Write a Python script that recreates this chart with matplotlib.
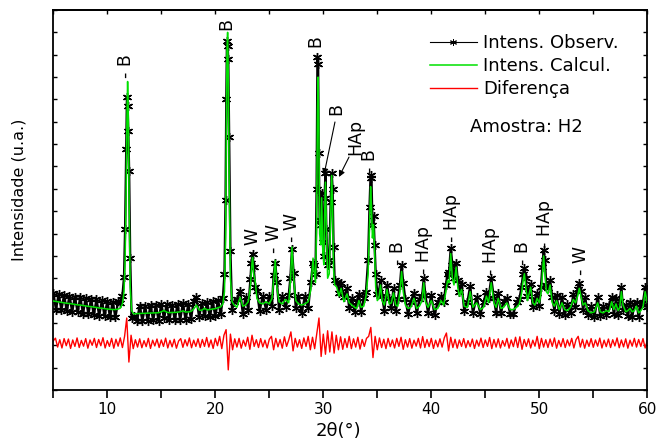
import numpy as np
import matplotlib.pyplot as plt

# Rietveld plot, sample H2. 2-theta in degrees, intensity in arbitrary units
two_theta = [
    # 5 - 11 background
    5.0, 5.25, 5.5, 5.75, 6.0, 6.25, 6.5, 6.75, 7.0, 7.25,
    7.5, 7.75, 8.0, 8.25, 8.5, 8.75, 9.0, 9.25, 9.5, 9.75,
    10.0, 10.25, 10.5, 10.75, 11.0,
    # peak B 11.9
    11.2, 11.4, 11.55, 11.65, 11.75, 11.82, 11.88, 11.94, 12.02, 12.12, 12.25, 12.45,
    # 12.75 - 20.5
    12.75, 13.0, 13.25, 13.5, 13.75, 14.0, 14.25, 14.5, 14.75, 15.0,
    15.25, 15.5, 15.75, 16.0, 16.25, 16.5, 16.75, 17.0, 17.25, 17.5,
    17.75, 18.0, 18.25, 18.5, 18.75, 19.0, 19.25, 19.5, 19.75, 20.0,
    20.25, 20.5,
    # peak B 21.1
    20.7, 20.85, 20.95, 21.02, 21.08, 21.14, 21.2, 21.28, 21.4, 21.55, 21.75,
    # 22 - 29 (W peaks)
    22.0, 22.3, 22.55, 22.8, 23.05, 23.25, 23.35, 23.45, 23.55, 23.7,
    23.85, 24.1, 24.4, 24.7, 25.0, 25.25, 25.4, 25.55, 25.7, 25.9,
    26.2, 26.5, 26.8, 26.95, 27.1, 27.25, 27.45, 27.7, 28.0, 28.3,
    28.6, 28.85,
    # 29 - 31 cluster
    29.05, 29.15, 29.28, 29.38, 29.46, 29.52, 29.58, 29.66, 29.76, 29.85,
    29.95, 30.05, 30.12, 30.2, 30.28, 30.4, 30.55, 30.68, 30.78, 30.86,
    30.95, 31.05,
    # 31 - 34
    31.25, 31.45, 31.65, 31.9, 32.2, 32.4, 32.65, 32.9, 33.1, 33.3,
    33.5, 33.75, 33.95,
    # 34 - 37
    34.15, 34.28, 34.38, 34.46, 34.55, 34.65, 34.75, 34.85, 35.0, 35.15,
    35.3, 35.45, 35.65, 35.9, 36.1, 36.3, 36.5, 36.7, 36.9,
    # 37 - 41
    37.1, 37.25, 37.4, 37.6, 37.85, 38.1, 38.4, 38.65, 38.9, 39.15,
    39.3, 39.45, 39.7, 40.0, 40.3, 40.6, 40.9, 41.15,
    # 41 - 47.5
    41.35, 41.5, 41.65, 41.8, 41.95, 42.1, 42.3, 42.45, 42.6, 42.8,
    43.05, 43.35, 43.6, 43.85, 44.2, 44.55, 44.85, 45.1, 45.3, 45.55,
    45.8, 46.0, 46.2, 46.45, 46.7, 47.0, 47.3,
    # 47.5 - 52
    47.6, 47.9, 48.15, 48.35, 48.5, 48.62, 48.75, 48.9, 49.05, 49.2,
    49.4, 49.6, 49.8, 50.0, 50.15, 50.28, 50.4, 50.52, 50.65, 50.8,
    51.0, 51.2, 51.4, 51.6, 51.85,
    # 52 - 60
    52.1, 52.35, 52.6, 52.9, 53.15, 53.35, 53.55, 53.7, 53.85, 54.05,
    54.25, 54.5, 54.8, 55.1, 55.4, 55.65, 55.9, 56.2, 56.45, 56.7,
    56.9, 57.1, 57.3, 57.45, 57.6, 57.75, 58.0, 58.2, 58.4, 58.6,
    58.8, 59.0, 59.2, 59.4, 59.6, 59.8, 60.0,
]

intens_calc = [
    3.98, 3.96, 3.94, 3.92, 3.90, 3.88, 3.87, 3.85, 3.83, 3.81,
    3.80, 3.78, 3.76, 3.74, 3.73, 3.71, 3.69, 3.67, 3.66, 3.64,
    3.62, 3.61, 3.60, 3.60, 3.62,
    3.66, 3.85, 4.40, 5.80, 9.00, 12.20, 13.80, 12.60, 8.40, 4.60, 3.55, 3.40,
    3.42, 3.42, 3.43, 3.43, 3.44, 3.44, 3.45, 3.45, 3.46, 3.50,
    3.56, 3.48, 3.46, 3.47, 3.47, 3.48, 3.50, 3.54, 3.49, 3.49,
    3.52, 3.62, 3.80, 3.58, 3.56, 3.66, 3.58, 3.60, 3.62, 3.64,
    3.68, 3.72,
    3.85, 4.40, 6.80, 11.50, 15.20, 16.00, 14.20, 9.50, 5.00, 3.95, 3.80,
    3.70, 4.15, 3.75, 3.80, 3.95, 4.60, 5.40, 6.00, 5.20, 4.85,
    4.10, 3.90, 3.85, 3.95, 3.85, 4.10, 4.90, 5.80, 4.60, 3.95,
    3.85, 4.05, 3.90, 4.80, 6.40, 5.00, 4.00, 3.85, 3.80, 3.85,
    3.95, 4.50,
    5.90, 5.30, 4.80, 7.50, 12.50, 14.00, 12.00, 7.00, 6.50, 8.60,
    6.20, 5.60, 7.80, 9.30, 7.40, 5.00, 5.20, 7.80, 9.60, 8.20,
    5.40, 4.70,
    4.60, 4.20, 4.55, 3.95, 4.30, 3.90, 3.80, 3.70, 3.65, 4.00,
    3.70, 3.75, 4.20,
    5.20, 7.50, 9.10, 8.20, 6.80, 7.40, 6.20, 4.60, 4.00, 4.10,
    4.70, 4.00, 3.80, 4.50, 3.85, 3.90, 4.35, 3.80, 3.75,
    4.40, 5.30, 4.40, 3.80, 3.65, 3.70, 4.10, 3.65, 3.75, 4.00,
    4.80, 3.95, 3.70, 4.00, 3.60, 3.65, 4.00, 3.80,
    4.40, 4.90, 4.80, 6.10, 5.00, 4.70, 5.50, 4.60, 4.20, 4.50,
    3.75, 3.70, 4.40, 3.70, 3.90, 3.60, 3.70, 4.20, 3.90, 4.80,
    3.90, 3.70, 4.10, 3.65, 3.70, 3.90, 3.60,
    3.60, 3.70, 3.85, 4.30, 4.90, 5.20, 4.60, 4.00, 4.30, 4.60,
    3.90, 3.80, 4.10, 3.90, 4.30, 5.10, 6.00, 5.20, 4.40, 4.30,
    4.70, 3.90, 3.75, 4.00, 3.60,
    3.90, 3.60, 3.55, 3.70, 4.05, 3.90, 4.20, 4.55, 4.20, 3.80,
    3.90, 3.55, 3.45, 3.50, 3.90, 3.50, 3.45, 3.55, 3.50, 3.95,
    3.60, 3.85, 3.55, 3.70, 4.40, 3.80, 3.50, 3.55, 3.65, 3.50,
    3.55, 3.75, 3.45, 3.55, 3.70, 4.40, 3.90,
]

intens_obs = [
    4.35, 3.60, 4.30, 3.58, 4.25, 3.52, 4.22, 3.50, 4.18, 3.48,
    4.15, 3.42, 4.12, 3.40, 4.08, 3.36, 4.05, 3.33, 4.02, 3.30,
    3.98, 3.27, 3.95, 3.25, 3.97,
    3.90, 4.20, 5.05, 7.20, 10.80, 13.10, 12.70, 11.60, 9.80, 5.90, 3.20, 3.30,
    3.08, 3.78, 3.10, 3.76, 3.08, 3.80, 3.12, 3.80, 3.10, 3.85,
    3.20, 3.84, 3.12, 3.82, 3.12, 3.84, 3.15, 3.88, 3.14, 3.84,
    3.18, 3.98, 4.15, 3.25, 3.90, 3.30, 3.94, 3.25, 3.98, 3.30,
    4.02, 3.40,
    4.10, 5.20, 8.50, 13.00, 15.60, 15.40, 14.80, 11.30, 6.20, 3.60, 3.95,
    4.05, 4.45, 3.40, 4.15, 3.60, 4.95, 5.70, 6.10, 5.50, 4.60,
    4.45, 3.55, 4.20, 3.60, 4.20, 3.75, 5.15, 5.70, 4.85, 3.60,
    4.20, 3.70, 4.25, 5.00, 6.30, 5.25, 3.65, 4.20, 3.45, 4.20,
    3.65, 4.85,
    5.70, 5.60, 5.20, 9.00, 14.90, 14.60, 10.60, 7.60, 7.40, 8.80,
    6.60, 6.00, 8.60, 9.70, 7.20, 5.60, 5.80, 8.40, 9.70, 9.00,
    6.40, 4.90,
    4.85, 4.35, 4.80, 4.15, 4.55, 3.65, 4.10, 3.50, 3.95, 4.30,
    3.50, 4.10, 4.40,
    5.80, 8.20, 9.60, 9.50, 7.40, 7.80, 6.50, 5.20, 4.30, 4.40,
    4.90, 4.20, 3.55, 4.70, 4.10, 3.65, 4.55, 3.55, 4.05,
    4.70, 5.60, 4.80, 4.05, 3.40, 3.95, 4.35, 3.45, 4.05, 4.20,
    5.00, 4.25, 3.45, 4.25, 3.35, 3.95, 4.20, 3.95,
    4.70, 5.20, 5.30, 6.35, 5.60, 5.00, 5.70, 4.90, 4.40, 4.75,
    3.55, 3.95, 4.65, 3.45, 4.15, 3.40, 3.95, 4.40, 4.10, 5.00,
    4.10, 3.45, 4.35, 3.45, 4.00, 4.10, 3.40,
    3.40, 3.95, 4.05, 4.60, 5.20, 5.45, 5.00, 4.20, 4.50, 4.75,
    3.70, 4.05, 4.35, 3.75, 4.60, 5.50, 6.25, 5.80, 4.70, 4.55,
    4.90, 4.15, 3.55, 4.25, 3.40,
    4.15, 3.35, 3.85, 3.45, 4.30, 3.70, 4.50, 4.80, 4.45, 3.60,
    4.15, 3.35, 3.75, 3.25, 4.15, 3.30, 3.75, 3.35, 3.80, 4.15,
    3.40, 4.10, 3.35, 4.00, 4.60, 3.60, 3.80, 3.30, 3.95, 3.25,
    3.85, 3.95, 3.25, 3.85, 3.90, 4.60, 3.70,
]

# difference curve (offset below the pattern), scan 5 -> 60 deg, step 0.2
intens_diff = [
    2.20, 2.32, 1.92, 2.25, 1.88, 2.30, 1.98, 2.28, 1.86, 2.24,
    1.95, 2.33, 1.90, 2.22, 1.96, 2.30, 1.87, 2.24, 2.00, 2.31,
    1.90, 2.26, 1.98, 2.34, 1.88, 2.21, 1.95, 2.31, 1.87, 2.27,
    1.96, 2.33, 1.90, 2.40, 3.22, 1.25, 2.45, 1.85, 2.25, 1.92,
    2.29, 1.89, 2.21, 1.94, 2.31, 1.86, 2.23, 1.97, 2.28, 1.90,
    2.24, 1.95, 2.32, 1.88, 2.22, 1.93, 2.27, 1.87, 2.19, 2.30,
    1.91, 2.25, 1.97, 2.33, 1.89, 2.23, 1.95, 2.29, 1.90, 2.26,
    1.95, 2.35, 1.92, 2.24, 1.86, 2.31, 1.98, 2.40, 1.85, 2.45,
    2.70, 0.90, 2.50, 1.80, 2.29, 1.92, 2.31, 1.87, 2.23, 1.96,
    2.36, 1.82, 2.45, 1.95, 2.25, 1.90, 2.30, 1.93, 2.23, 1.88,
    2.27, 2.40, 1.80, 2.31, 1.93, 2.26, 1.87, 2.38, 1.95, 2.24,
    2.60, 1.75, 2.31, 1.92, 2.25, 1.86, 2.33, 1.95, 2.40, 1.80,
    2.36, 1.85, 2.55, 3.22, 1.50, 2.50, 1.60, 2.65, 1.70, 2.60,
    1.65, 2.45, 1.80, 2.38, 1.82, 2.30, 1.90, 2.40, 1.85, 2.29,
    1.92, 2.36, 1.83, 2.26, 1.95, 2.31, 2.40, 2.80, 1.45, 2.40,
    1.80, 2.33, 1.90, 2.27, 1.85, 2.31, 1.94, 2.24, 1.88, 2.31,
    1.95, 2.36, 1.82, 2.25, 1.92, 2.30, 1.87, 2.23, 1.96, 2.31,
    1.88, 2.39, 1.90, 2.26, 1.94, 2.31, 1.86, 2.23, 1.93, 2.29,
    1.92, 2.33, 2.55, 1.75, 2.36, 1.90, 2.27, 1.87, 2.24, 1.95,
    2.30, 1.89, 2.21, 1.94, 2.28, 1.86, 2.23, 1.96, 2.32, 1.90,
    2.24, 1.95, 2.35, 1.85, 2.26, 1.92, 2.29, 1.88, 2.21, 1.96,
    2.31, 1.87, 2.24, 1.94, 2.36, 1.90, 2.38, 1.82, 2.26, 1.95,
    2.29, 1.88, 2.23, 1.96, 2.40, 1.85, 2.31, 1.92, 2.25, 1.90,
    2.28, 1.95, 2.33, 1.87, 2.22, 1.94, 2.30, 1.90, 2.24, 1.97,
    2.31, 1.88, 2.25, 2.40, 1.92, 2.27, 1.87, 2.23, 1.95, 2.30,
    1.91, 2.24, 1.96, 2.32, 1.88, 2.23, 1.94, 2.28, 1.90, 2.25,
    1.97, 2.33, 1.89, 2.24, 1.93, 2.29, 1.87, 2.23, 1.96, 2.31,
    1.92, 2.26, 1.95, 2.30, 1.88, 2.21,
]
diff_start, diff_stop = 5.0, 60.0

# phase labels (B, W, HAp) above the reflections
peak_labels = ["- B", "B", "- B", "- W", "- W", "- W", "- B", "- B", "- HAp",
               "- HAp", "- HAp", "- B", "- HAp", "- W", "B", "HAp"]
label_x = [11.75, 21.0, 29.45, 23.5, 25.4, 27.1, 34.35, 36.9, 39.3,
           41.9, 45.55, 48.5, 50.55, 53.85, 31.2, 33.0]
label_y = [13.95, 16.1, 14.75, 5.95, 6.15, 6.6, 9.7, 5.6, 5.2,
           6.6, 5.15, 5.6, 6.35, 5.15, 12.3, 10.5]

# arrows from the "B" and "HAp" labels down to the 30-31 deg peaks
arrow_tail = [(31.08, 11.99), (32.38, 10.42)]
arrow_head = [(30.06, 9.62), (31.45, 9.53)]

x_ticks = [5, 10, 15, 20, 25, 30, 35, 40, 45, 50, 55, 60]
x_tick_labels = ["", "10", "", "20", "", "30", "", "40", "", "50", "", "60"]

plt.rcParams["font.family"] = ["DejaVu Sans"]

fig = plt.figure(figsize=(6.56, 4.46), dpi=100)
ax = fig.add_axes([53.3 / 656, 56 / 446, 594 / 656, 380 / 446])

diff_x = np.linspace(diff_start, diff_stop, len(intens_diff))

ax.plot(two_theta, intens_obs, color="black", lw=1.7,
        marker=(6, 2, 0), markersize=6.5, mew=1.0, zorder=2,
        label="Intens. Observ.")
ax.plot(two_theta, intens_calc, color="#00e000", lw=1.1, zorder=3,
        label="Intens. Calcul.")
ax.plot(diff_x, intens_diff, color="#ff0000", lw=1.0, zorder=2,
        label="Diferença")

for s, x, y in zip(peak_labels, label_x, label_y):
    ax.text(x, y, s, rotation=90, ha="center", va="bottom", fontsize=12.5)

for tail, head in zip(arrow_tail, arrow_head):
    ax.annotate("", xy=head, xytext=tail,
                arrowprops=dict(arrowstyle="-|>", color="black", lw=0.8,
                                mutation_scale=9, shrinkA=0, shrinkB=0))

ax.text(0.797, 0.692, "Amostra: H2", transform=ax.transAxes,
        ha="center", va="center", fontsize=13)

leg = ax.legend(loc="upper left", bbox_to_anchor=(0.634, 0.937), frameon=False,
                fontsize=13, borderpad=0, borderaxespad=0, handlelength=2.6,
                handletextpad=0.33, labelspacing=0.28, numpoints=1)
leg.legend_handles[0].set_markersize(5)
leg.legend_handles[0].set_linewidth(0.8)
leg.legend_handles[0].set_markeredgewidth(0.7)

ax.set_xlim(5, 60)
ax.set_ylim(0, 17)
ax.set_xticks(x_ticks)
ax.set_xticklabels(x_tick_labels, fontsize=11)
ax.set_yticks(np.arange(0, 18))
ax.set_yticklabels([])
ax.tick_params(axis="x", direction="out", length=6, width=1.2, pad=3)
ax.tick_params(axis="y", direction="in", length=3, width=1.0,
               left=True, right=True)

top = ax.secondary_xaxis("top")
top.set_xticks(x_ticks)
top.set_xticklabels([])
top.tick_params(direction="in", length=3, width=1.0)

for sp in ax.spines.values():
    sp.set_linewidth(1.3)
top.spines["top"].set_linewidth(1.3)

ax.set_xlabel("2θ(°)", fontsize=13)
ax.xaxis.set_label_coords(0.48, -0.085)
ax.set_ylabel("Intensidade (u.a.)", fontsize=11.5)
ax.yaxis.set_label_coords(-0.045, 0.526)

fig.savefig("out.png", dpi=100)
